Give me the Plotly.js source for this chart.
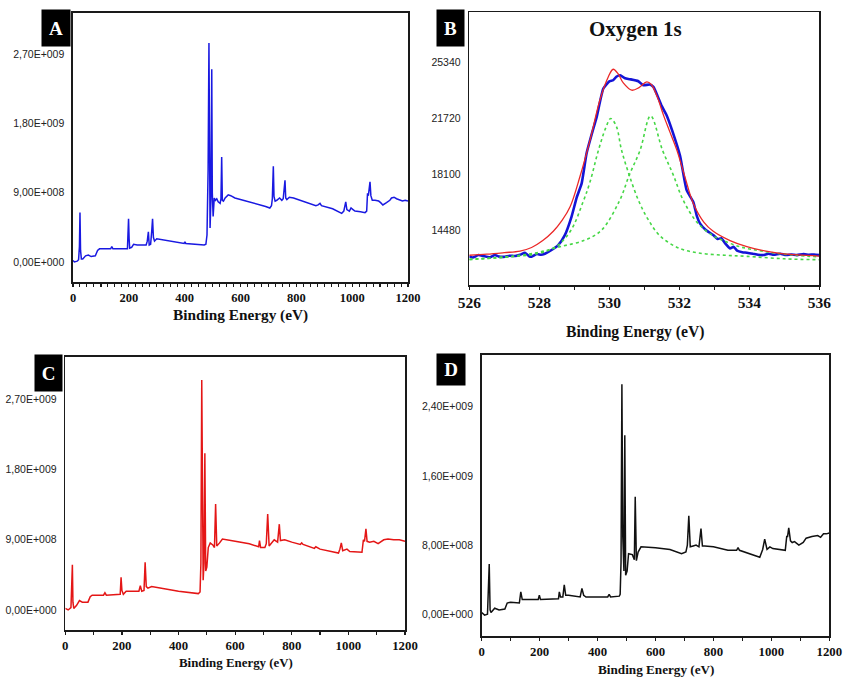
<!DOCTYPE html>
<html>
<head>
<meta charset="utf-8">
<script src="https://cdn.plot.ly/plotly-3.0.1.min.js"></script>
<style>html,body{margin:0;padding:0;background:#fff;}#chart{width:845px;height:677px;}</style>
</head>
<body>
<div id="chart"></div>
<script>
// ---------- Panel A (survey, blue) : energy (eV), intensity (x1e9 counts)
const aE = [0,5,15,20,23,25,27,30,35,45,55,65,80,88,95,135,139,143,195,197,199,201,203,210,217,230,262,266,270,273,278,282,285,288,292,300,330,398,401,404,470,476,480,484,487,489,491,494,497,499,502,506,510,515,520,527,530,532.6,535,539,545,556,565,580,620,660,690,705,711,714,717.6,720,724,730,740,748,753,759.4,762,766,775,790,830,870,878,884.8,890,900,930,962.4,970,977,981,990,996,1003,1010,1030,1046,1052,1055,1058,1063.9,1067,1072,1082,1095,1102,1110,1123,1135,1141,1150,1159,1170,1180,1190,1200];
const aI = [0.02,0.0,0.01,0.03,0.2,0.64,0.15,0.04,0.04,0.08,0.09,0.07,0.08,0.15,0.17,0.17,0.2,0.17,0.17,0.3,0.56,0.3,0.18,0.19,0.23,0.22,0.22,0.27,0.39,0.22,0.23,0.4,0.56,0.32,0.27,0.3,0.28,0.24,0.26,0.24,0.22,0.23,0.35,1.2,2.84,0.9,0.44,0.8,2.5,0.9,0.59,0.83,0.8,0.82,0.78,0.76,0.82,1.36,0.8,0.79,0.83,0.87,0.86,0.83,0.79,0.76,0.72,0.7,0.73,0.82,1.24,0.85,0.79,0.8,0.83,0.8,0.82,1.06,0.83,0.81,0.84,0.83,0.78,0.73,0.74,0.76,0.73,0.72,0.69,0.63,0.66,0.78,0.68,0.66,0.7,0.68,0.66,0.65,0.64,0.66,0.89,0.86,1.04,0.86,0.8,0.8,0.79,0.77,0.74,0.77,0.8,0.83,0.84,0.82,0.8,0.79,0.8,0.79,0.79];

// ---------- Panel B (O 1s) : energy (eV), counts
const bDataE = [526.0,526.1,526.26,526.4,526.59,526.73,526.85,527.02,527.15,527.31,527.45,527.59,527.7,527.78,527.93,528.05,528.16,528.35,528.54,528.73,528.92,529.07,529.21,529.35,529.5,529.64,529.83,530.0,530.11,530.2,530.31,530.45,530.59,530.83,530.97,531.16,531.26,531.37,531.5,531.64,531.8,532.02,532.21,532.4,532.5,532.59,532.75,532.97,533.1,533.2,533.3,533.45,533.55,533.65,533.8,533.93,534.1,534.25,534.4,534.55,534.7,534.88,535.05,535.2,535.36,535.55,535.7,535.85,536.0];
const bDataV = [12780,12700,12864,12800,12713,12864,12760,12756,12820,12799,12880,13015,12800,12756,12929,12880,12950,13188,13510,14157,15340,16600,17500,19438,20700,21804,23640,24100,24176,24400,24500,24300,24241,24111,23853,23900,23743,23206,22500,21900,20900,19300,17066,16300,15400,14913,14500,14157,13900,13950,13650,13297,13400,13150,13050,13015,12950,12880,12864,12950,12880,12950,12870,12900,12860,12930,12880,12900,12860];
const bFitE = [526.0,526.5,527.0,527.45,527.78,528.1,528.4,528.65,528.88,529.16,529.45,529.73,529.97,530.11,530.25,530.4,530.64,530.85,531.07,531.2,531.37,531.55,531.73,531.93,532.15,532.4,532.7,532.97,533.45,533.93,534.4,534.88,535.4,536.0];
const bFitV = [12850,12920,13020,13120,13350,13800,14400,15100,15986,17926,20298,22883,24390,24887,24600,24000,23530,23700,24066,23900,23100,21900,20835,19651,18000,16200,15000,14400,13800,13405,13150,12974,12870,12800];
const bPk1E = [526.0,527.0,528.0,528.5,528.9,529.25,529.45,529.69,529.9,530.04,530.2,530.35,530.57,530.83,531.1,531.45,532.0,532.6,533.3,533.93,535.0,536.0];
const bPk1V = [12600,12720,12980,13450,14450,16300,17600,19651,21100,21700,21200,19651,18035,16419,15200,14100,13300,12980,12850,12780,12620,12560];
const bPk2E = [526.0,527.26,528.0,528.59,529.31,529.78,530.3,530.57,530.88,531.18,531.52,531.83,532.11,532.5,532.97,533.26,533.73,534.4,535.3,536.0];
const bPk2V = [12560,12800,13050,13400,13834,14480,16419,18035,19651,21869,19651,18035,16419,15000,14100,13800,13400,13100,12850,12750];

// ---------- Panel C (survey, red)
const cE = [0,10,20,23,25,27,30,40,50,60,80,88,95,135,140,145,194,197,200,205,215,260,265,270,278,282,286,292,305,400,470,476,479,482,485,487,490,493,496,500,505,512,522,527,531,535,545,555,600,650,683,686,690,705,710,715,720,730,738,750,756,760,775,800,830,835,840,880,885,900,965,970,975,980,995,1005,1048,1053,1057,1062,1066,1075,1090,1105,1125,1140,1160,1180,1200];
const cI = [0.02,0.0,0.03,0.3,0.58,0.1,0.02,0.06,0.12,0.1,0.1,0.17,0.19,0.19,0.22,0.19,0.2,0.42,0.25,0.2,0.24,0.24,0.31,0.24,0.25,0.61,0.3,0.28,0.3,0.24,0.21,0.23,0.6,2.95,0.9,0.38,0.6,2.01,0.5,0.55,0.8,0.86,0.83,0.8,1.36,0.82,0.86,0.91,0.88,0.85,0.81,0.89,0.8,0.8,0.85,1.23,0.82,0.86,0.9,0.87,1.1,0.89,0.9,0.87,0.84,0.86,0.84,0.79,0.81,0.78,0.73,0.78,0.86,0.76,0.78,0.75,0.74,0.9,0.88,1.04,0.88,0.87,0.88,0.85,0.9,0.91,0.9,0.9,0.88];

// ---------- Panel D (survey, black)
const dE = [0,10,20,23,26,29,32,45,60,80,88,100,130,135,140,195,199,203,240,265,268,272,280,285,290,300,340,346,352,360,435,440,445,475,478,481,484,487,491,494,497,502,507,520,527,530,534,540,550,600,650,690,705,710,715,720,730,740,750,757,762,770,800,850,880,885,890,960,970,977,985,995,1005,1048,1053,1056,1060,1066,1072,1080,1095,1110,1120,1140,1160,1170,1180,1190,1200];
const dI = [0.02,-0.01,0.0,0.25,0.58,0.05,0.02,0.07,0.05,0.06,0.13,0.14,0.13,0.26,0.17,0.17,0.22,0.17,0.18,0.18,0.26,0.2,0.2,0.34,0.22,0.22,0.2,0.3,0.22,0.2,0.2,0.23,0.2,0.21,0.23,0.6,2.66,0.9,0.5,2.07,0.45,0.5,0.7,0.69,0.63,1.36,0.62,0.72,0.78,0.77,0.75,0.7,0.72,0.8,1.14,0.78,0.79,0.8,0.78,0.99,0.79,0.79,0.78,0.74,0.74,0.77,0.74,0.66,0.75,0.87,0.75,0.78,0.76,0.74,0.9,0.9,1.0,0.85,0.83,0.84,0.8,0.83,0.88,0.9,0.91,0.89,0.93,0.93,0.94];

// ---------- tick labels
const surveyTickVals = [0,100,200,300,400,500,600,700,800,900,1000,1100,1200];
const surveyTickText = ['0','','200','','400','','600','','800','','1000','','1200'];
const acTickVals = [0,0.9,1.8,2.7];
const acTickText = ['0,00E+000','9,00E+008','1,80E+009','2,70E+009'];
const dTickVals = [0,0.8,1.6,2.4];
const dTickText = ['0,00E+000','8,00E+008','1,60E+009','2,40E+009'];
const bTickVals = [14480,18100,21720,25340];
const bTickText = ['14480','18100','21720','25340'];
const bXTickVals = [526,527,528,529,530,531,532,533,534,535,536];
const bXTickText = ['526','','528','','530','','532','','534','','536'];
const panelLabels = ['A','B','C','D'];
const xTitle = 'Binding Energy (eV)';
const bTitle = 'Oxygen 1s';

// ---------- layout helpers (pixel -> paper)
const W = 845, H = 677;
const px = v => v / W;
const py = v => 1 - v / H;

const serifBold = (size) => ({family: 'Liberation Serif, Times New Roman, serif', size: size, color: '#111', weight: 'bold'});
const sans = {family: 'Liberation Sans, Arial, sans-serif', size: 10.5, color: '#222'};

function xAxis(x0, x1, anchor, range, vals, text, fsize, minor) {
  const ax = {
    domain: [px(x0), px(x1)], anchor: anchor, range: range,
    showline: true, linecolor: '#1a1a1a', linewidth: 1.6, mirror: true,
    showgrid: false, zeroline: false,
    tickmode: 'array', tickvals: vals, ticktext: text,
    ticks: 'outside', ticklen: 3, tickwidth: 1.2, tickcolor: '#1a1a1a',
    tickfont: serifBold(fsize), fixedrange: true
  };
  if (minor) ax.minor = {dtick: minor, ticks: 'outside', ticklen: 3, tickwidth: 1, tickcolor: '#1a1a1a', showgrid: false};
  return ax;
}
function yAxis(y0, y1, anchor, range, vals, text) {
  return {
    domain: [py(y1), py(y0)], anchor: anchor, range: range,
    showline: true, linecolor: '#1a1a1a', linewidth: 1.6, mirror: true,
    showgrid: false, zeroline: false,
    tickmode: 'array', tickvals: vals, ticktext: text,
    ticks: '', ticklabelstandoff: 5,
    tickfont: sans, fixedrange: true
  };
}

const traces = [
  {x: aE, y: aI, xaxis: 'x', yaxis: 'y', mode: 'lines', line: {color: 'rgb(25,25,225)', width: 1.5}},
  {x: bDataE, y: bDataV, xaxis: 'x2', yaxis: 'y2', mode: 'lines', line: {color: 'rgb(20,20,215)', width: 2.6, shape: 'spline', smoothing: 0.5}},
  {x: bPk1E, y: bPk1V, xaxis: 'x2', yaxis: 'y2', mode: 'lines', line: {color: 'rgb(70,215,70)', width: 1.6, dash: 'dot', shape: 'spline', smoothing: 1}},
  {x: bPk2E, y: bPk2V, xaxis: 'x2', yaxis: 'y2', mode: 'lines', line: {color: 'rgb(70,215,70)', width: 1.6, dash: 'dot', shape: 'spline', smoothing: 1}},
  {x: bFitE, y: bFitV, xaxis: 'x2', yaxis: 'y2', mode: 'lines', line: {color: 'rgb(235,40,40)', width: 1.3, shape: 'spline', smoothing: 1}},
  {x: cE, y: cI, xaxis: 'x3', yaxis: 'y3', mode: 'lines', line: {color: 'rgb(228,22,22)', width: 1.5}},
  {x: dE, y: dI, xaxis: 'x4', yaxis: 'y4', mode: 'lines', line: {color: '#111', width: 1.5}}
];

function label(t, cx, cy, w, h) {
  return {xref: 'paper', yref: 'paper', x: px(cx), y: py(cy), xanchor: 'center', yanchor: 'middle',
    text: t, showarrow: false, bgcolor: '#000', width: w, height: h, borderpad: 0,
    font: {family: 'Liberation Serif, Times New Roman, serif', size: 19, color: '#fff', weight: 'bold'}};
}
function title(t, cx, cy, size) {
  return {xref: 'paper', yref: 'paper', x: px(cx), y: py(cy), xanchor: 'center', yanchor: 'middle',
    text: t, showarrow: false, font: serifBold(size)};
}

const layout = {
  width: W, height: H, margin: {l: 0, r: 0, t: 0, b: 0},
  paper_bgcolor: '#fff', plot_bgcolor: '#fff', showlegend: false,
  xaxis:  xAxis(73, 408, 'y', [0, 1200], surveyTickVals, surveyTickText, 12.5, 25),
  yaxis:  yAxis(13, 282, 'x', [-0.26, 3.23], acTickVals, acTickText),
  xaxis2: xAxis(469.3, 819.3, 'y2', [526, 536], bXTickVals, bXTickText, 15.5, null),
  yaxis2: yAxis(12.3, 285, 'x2', [10925, 28572], bTickVals, bTickText),
  xaxis3: xAxis(65.3, 405, 'y3', [0, 1200], surveyTickVals, surveyTickText, 12.8, null),
  yaxis3: yAxis(356.7, 630, 'x3', [-0.257, 3.248], acTickVals, acTickText),
  xaxis4: xAxis(481.7, 829.3, 'y4', [0, 1200], surveyTickVals, surveyTickText, 12.8, null),
  yaxis4: yAxis(355, 636, 'x4', [-0.251, 2.998], dTickVals, dTickText),
  annotations: [
    label(panelLabels[0], 56, 28, 28, 36),
    label(panelLabels[1], 450.5, 28, 27, 36),
    label(panelLabels[2], 48.5, 373, 27, 36),
    label(panelLabels[3], 450.5, 369.5, 28, 31),
    title(bTitle, 635.7, 29.3, 21),
    title(xTitle, 240.8, 315, 15.3),
    title(xTitle, 635.7, 332, 15.7),
    title(xTitle, 235.5, 662.5, 12.9),
    title(xTitle, 656.7, 669, 13.2)
  ]
};

Plotly.newPlot('chart', traces, layout, {staticPlot: true, displayModeBar: false});
</script>
</body>
</html>
